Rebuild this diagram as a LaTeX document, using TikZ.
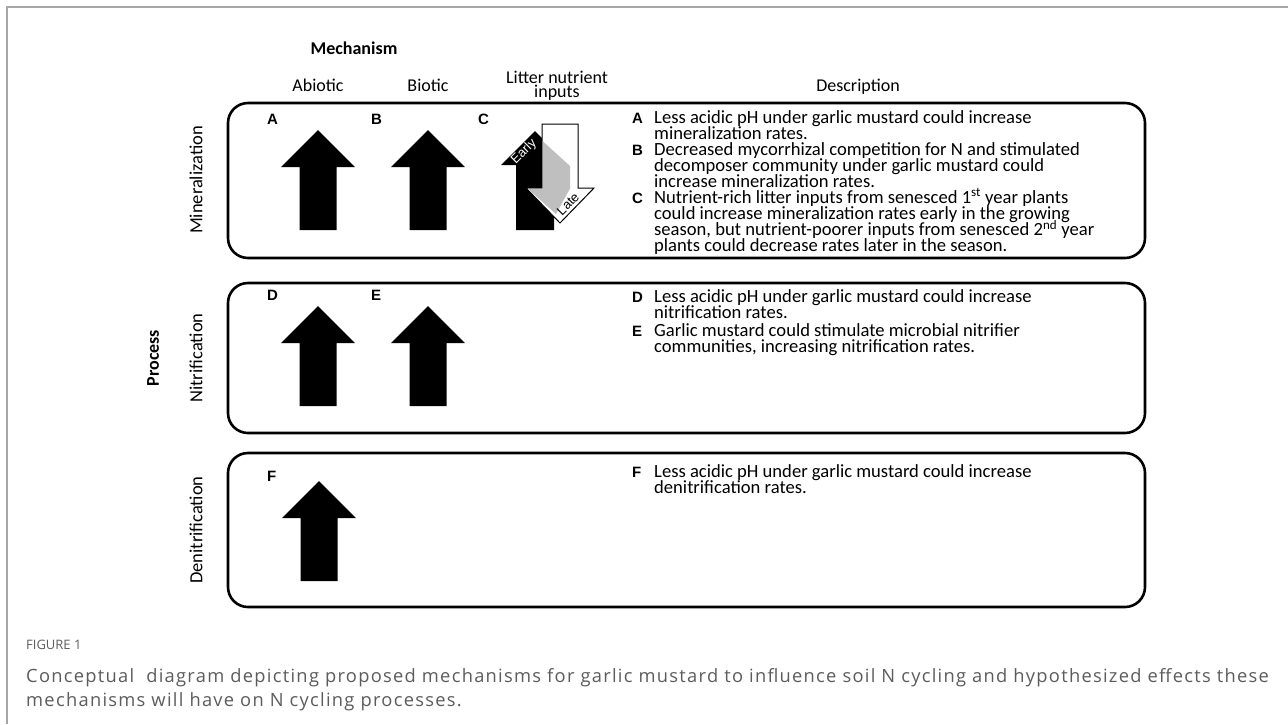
\documentclass[tikz,border=0pt]{standalone}
\usepackage{fontspec}
\setmainfont{Carlito}
\newfontfamily\arialf{Liberation Sans}
\newfontfamily\capf{Open Sans}[LetterSpace=7]
\newfontfamily\figf{Open Sans}
\newcommand\supx[1]{\smash{\textsuperscript{#1}}}
\newcommand\bigup[2]{% center x, tip y
  \fill[black] (#1-18.5,#2+100) -- (#1-18.5,#2+37) -- (#1-37,#2+37) -- (#1,#2) -- (#1+37,#2+37) -- (#1+18.5,#2+37) -- (#1+18.5,#2+100) -- cycle;}
\begin{document}
\begin{tikzpicture}[x=1pt,y=-1pt,
  procbox/.style={draw=black, line width=2.6pt, rounded corners=20pt},
  hdr/.style={font=\fontsize{18}{15}\selectfont, inner sep=0pt},
  side/.style={font=\fontsize{18.5}{15}\selectfont, rotate=90, inner sep=0pt},
  letter/.style={font=\arialf\bfseries\fontsize{15}{15}\selectfont, inner sep=0pt, anchor=base west},
  desc/.style={font={\fontsize{18.6}{16.2}\selectfont\lineskiplimit=-50pt\lineskip=0pt}, inner sep=0pt, anchor=base west, align=left},
  captext/.style={font={\capf\fontsize{18.3}{24}\selectfont}, text=black!64, inner sep=0pt, anchor=base west, align=left},
  arrowlbl/.style={font=\arialf\fontsize{13}{12}\selectfont, rotate=45, inner sep=0pt}]
\useasboundingbox (0,0) rectangle (1288,724);
\fill[white] (0,0) rectangle (1288,724);
% outer frame
\draw[black!35, line width=2pt] (7,724) -- (7,7) -- (1288,7);

% headers
\node[hdr, font=\bfseries\fontsize{18}{15}\selectfont, anchor=base] (mech) at (354,54) {Mechanism};
\node[hdr, anchor=base] (abio) at (318,91) {Abiotic};
\node[hdr, anchor=base] (bio) at (428,91) {Biotic};
\node[hdr, align=center, font=\fontsize{18}{14}\selectfont] (litt) at (557,86) {Litter nutrient\\inputs};
\node[hdr, anchor=base] (descr) at (858,91) {Description};

% process boxes
\draw[procbox] (228,103) rectangle (1145,258);
\draw[procbox] (228,283) rectangle (1145,433);
\draw[procbox] (228,453) rectangle (1145,607);
\node[side] (min) at (196,180) {Mineralization};
\node[side] (nit) at (196,358) {Nitrification};
\node[side] (den) at (196,530) {Denitrification};
\node[side, font=\bfseries\fontsize{18}{15}\selectfont] (proc) at (153,358) {Process};

% letters in columns
\node[letter] (la) at (267,124) {A};
\node[letter] (lb) at (371,124) {B};
\node[letter] (lc) at (478,124) {C};
\node[letter] (ld) at (267,300) {D};
\node[letter] (le) at (371,300) {E};
\node[letter] (lf) at (267,481) {F};

% arrows
\bigup{318}{130}
\bigup{428}{130}
\bigup{318}{306}
\bigup{428}{306}
\bigup{319}{481}

% litter arrows
\fill[black] (516,230) -- (516,165) -- (501,165) -- (535,131) -- (569,165) -- (554,165) -- (554,230) -- cycle;
\draw[black, line width=1pt, fill=white] (542,124) -- (542,188) -- (526,188) -- (560,223) -- (594,188) -- (578,188) -- (578,124) -- cycle;
\fill[black!25] (542.5,141) -- (570,166) -- (570,188.5) -- (556,214) -- (527.5,188.5) -- (542.5,188.5) -- cycle;
\node[arrowlbl, text=white] (early) at (524,152) {Early};
\node[arrowlbl, text=black] (late) at (568,204) {Late};

% descriptions (node base = last line's baseline)
\node[letter] (da) at (632,123) {A};
\node[desc] (ta) at (654,139.2) {Less acidic pH under garlic mustard could increase\\mineralization rates.};
\node[letter] (db) at (632,155) {B};
\node[desc] (tb) at (654,187.4) {Decreased mycorrhizal competition for N and stimulated\\decomposer community under garlic mustard could\\increase mineralization rates.};
\node[letter] (dc) at (632,203) {C};
\node[desc] (tc) at (654,251.6) {Nutrient-rich litter inputs from senesced 1\supx{st} year plants\\could increase mineralization rates early in the growing\\season, but nutrient-poorer inputs from senesced 2\supx{nd} year\\plants could decrease rates later in the season.};
\node[letter] (dd) at (632,302) {D};
\node[desc] (td) at (654,318.2) {Less acidic pH under garlic mustard could increase\\nitrification rates.};
\node[letter] (de) at (632,336) {E};
\node[desc] (te) at (654,352.2) {Garlic mustard could stimulate microbial nitrifier\\communities, increasing nitrification rates.};
\node[letter] (df) at (632,477) {F};
\node[desc] (tf) at (654,493.2) {Less acidic pH under garlic mustard could increase\\denitrification rates.};

% caption (figure label as first line)
\node[captext] (captxt) at (26,706) {{\figf\fontsize{13}{13}\selectfont FIGURE 1}\\[9pt]Conceptual\ \ diagram depicting proposed mechanisms for garlic mustard to influence soil N cycling and hypothesized effects these\\mechanisms will have on N cycling processes.};
\end{tikzpicture}
\end{document}
